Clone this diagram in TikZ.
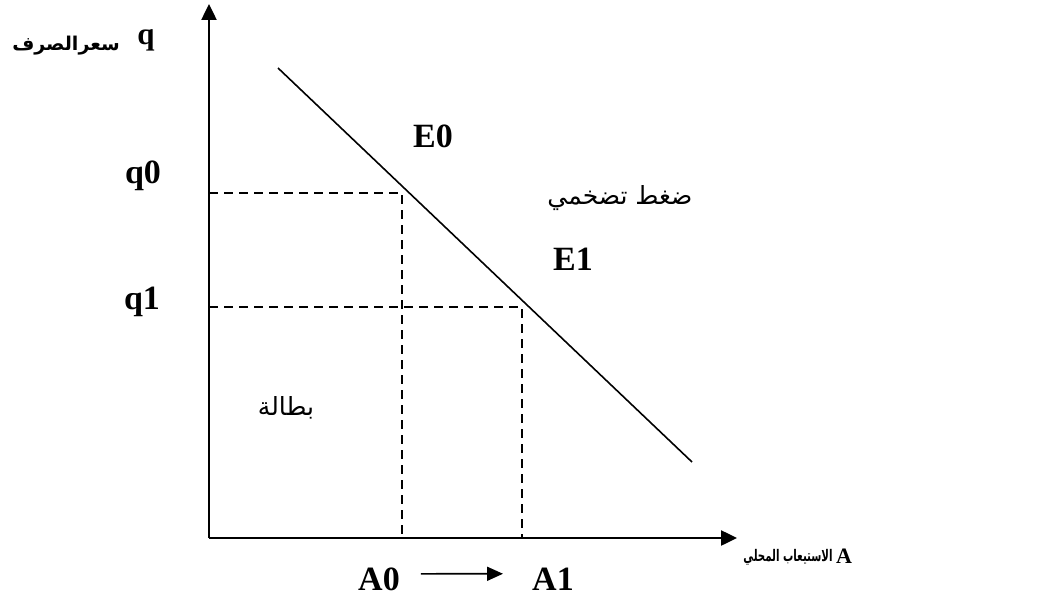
\documentclass[tikz,border=0pt]{standalone}
\usepackage{fontspec}
\setmainfont{Liberation Serif}
\newfontfamily\arabicfont[Script=Arabic]{DejaVu Sans}
\TeXXeTstate=1
\usetikzlibrary{arrows.meta}
\begin{document}
\begin{tikzpicture}[x=1pt,y=-1pt,
  lbl/.style={font=\fontsize{34}{40}\selectfont\bfseries, inner sep=0pt, anchor=base},
  artext/.style={font=\arabicfont\fontsize{25}{30}\selectfont, inner sep=0pt},
  axisline/.style={line width=2.5pt, -{Triangle[length=16pt,width=15pt]}},
  dashline/.style={line width=2pt, dash pattern=on 9pt off 6pt},
  curve/.style={line width=1.6pt},
  shiftarrow/.style={line width=1.7pt, -{Triangle[length=16pt,width=14pt]}}]
\useasboundingbox (0,0) rectangle (1044,599);
% axes
\coordinate (O) at (209,538);
\coordinate (Ytop) at (209,4);
\coordinate (Xend) at (737,538);
\draw[axisline] (O) -- (Ytop);
\draw[axisline] (O) -- (Xend);
% demand line
\coordinate (L1) at (278,68);
\coordinate (L2) at (692,462);
\draw[curve] (L1) -- (L2);
% dashed guides
\coordinate (Q0) at (209,193);
\coordinate (P0) at (402,193);
\coordinate (B0) at (402,538);
\coordinate (Q1) at (209,307);
\coordinate (P1) at (522,307);
\coordinate (B1) at (522,538);
\draw[dashline] (Q0) -- (P0) -- (B0);
\draw[dashline] (Q1) -- (P1) -- (B1);
% labels
\node[lbl, font=\fontsize{31}{36}\selectfont\bfseries] (q) at (146,45) {q};
\node[artext, font=\arabicfont\bfseries\fontsize{19}{24}\selectfont] (qlabel) at (66,46) {\beginR سعرالصرف\endR};
\node[lbl] (q0) at (143,183) {q0};
\node[lbl] (q1) at (142,309) {q1};
\node[lbl] (E0) at (433,148) {E0};
\node[lbl] (E1) at (573,270) {E1};
\node[artext] (infl) at (620,198) {\beginR ضغط تضخمي\endR};
\node[artext] (unemp) at (286,408) {\beginR بطالة\endR};
\node[lbl] (A0) at (379,590) {A0};
\node[lbl] (A1) at (553,590) {A1};
\node[lbl, font=\fontsize{22}{26}\selectfont\bfseries] (A) at (844,563) {A};
\node[artext, font=\arabicfont\bfseries\fontsize{16}{20}\selectfont] (alabel) at (788,557) {\scalebox{0.64}[1]{\beginR الاستيعاب المحلي\endR}};
\draw[shiftarrow] ([xshift=21pt,yshift=5pt]A0.east) -- ([xshift=-29pt,yshift=5pt]A1.west);
\end{tikzpicture}
\end{document}
